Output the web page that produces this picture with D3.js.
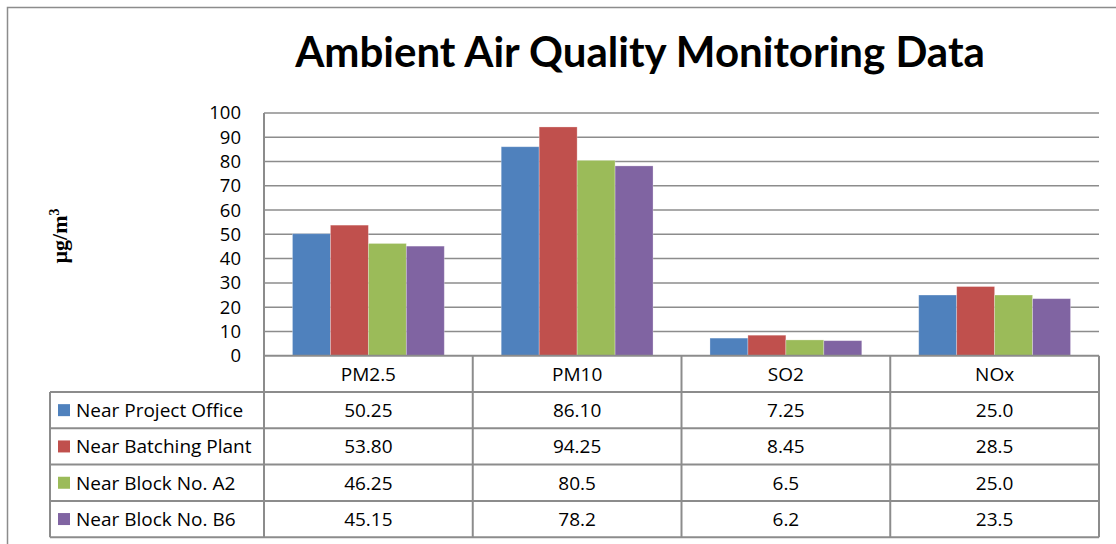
<!DOCTYPE html>
<meta charset="utf-8">
<script src="https://d3js.org/d3.v7.min.js"></script>
<style>
  body { margin: 0; background: #fff; }
  text { font-family: 'Open Sans', Lato, sans-serif; fill: #000; }
</style>
<body>
<div id="chart"></div>
<script>

// data
var categories = ["PM2.5", "PM10", "SO2", "NOx"];
var seriesNames = ["Near Project Office", "Near Batching Plant", "Near Block No. A2", "Near Block No. B6"];
var projectOffice = [50.25, 86.10, 7.25, 25.0];
var batchingPlant = [53.80, 94.25, 8.45, 28.5];
var blockA2 = [46.25, 80.5, 6.5, 25.0];
var blockB6 = [45.15, 78.2, 6.2, 23.5];
// the table shows the values as typed in the sheet
var projectOfficeText = ["50.25", "86.10", "7.25", "25.0"];
var batchingPlantText = ["53.80", "94.25", "8.45", "28.5"];
var blockA2Text = ["46.25", "80.5", "6.5", "25.0"];
var blockB6Text = ["45.15", "78.2", "6.2", "23.5"];
var yTicks = [0, 10, 20, 30, 40, 50, 60, 70, 80, 90, 100];
var colors = ["#4f81bd", "#c0504d", "#9bbb59", "#8064a2"];

var series = [projectOffice, batchingPlant, blockA2, blockB6];
var seriesText = [projectOfficeText, batchingPlantText, blockA2Text, blockB6Text];

var W = 1116, H = 544;
var plot = {left: 264, right: 1099, top: 113, bottom: 355.7};
var tableLeft = 50, rowH = 36.3;
var gridColor = "#8c8c8c";
var fs = "19px";

var svg = d3.select("#chart").append("svg")
  .attr("width", W)
  .attr("height", H);

// outer chart border (runs off the right and bottom edge)
svg.append("rect")
  .attr("x", 7.5).attr("y", 7.5)
  .attr("width", W).attr("height", H)
  .attr("fill", "none")
  .attr("stroke", "#8c8c8c")
  .attr("stroke-width", 1.5);

// title
var title = svg.append("text")
  .attr("x", 640).attr("y", 67)
  .attr("text-anchor", "middle")
  .style("font-family", "Lato, sans-serif")
  .style("font-size", "33px")
  .style("font-weight", 700)
  .text("Ambient Air Quality Monitoring Data");
var tl = title.node().getComputedTextLength();
title.style("font-size", (33 * 690 / tl) + "px");

// scales
var x0 = d3.scaleBand()
  .domain(categories)
  .range([plot.left, plot.right]);

var x1 = d3.scaleBand()
  .domain(d3.range(series.length))
  .range([0, x0.bandwidth()])
  .paddingInner(0)
  .paddingOuter(0.75);

var y = d3.scaleLinear()
  .domain([0, 100])
  .range([plot.bottom, plot.top]);

// gridlines
svg.append("g")
  .selectAll("line")
  .data(yTicks.filter(function(d) { return d > 0; }))
  .enter().append("line")
    .attr("x1", plot.left).attr("x2", plot.right)
    .attr("y1", function(d) { return y(d); })
    .attr("y2", function(d) { return y(d); })
    .attr("stroke", gridColor)
    .attr("stroke-width", 1.5);

// y axis tick labels
var yAxis = svg.append("g")
  .attr("transform", "translate(" + plot.left + ",0)")
  .call(d3.axisLeft(y).tickValues(yTicks).tickSize(0).tickPadding(23));
yAxis.select(".domain").remove();
yAxis.selectAll("text")
  .style("font-family", "'Open Sans', sans-serif")
  .style("font-size", "18.5px")
  .attr("fill", "#000");

// y axis title
svg.append("text")
  .attr("transform", "translate(67,236) rotate(-90)")
  .attr("text-anchor", "middle")
  .style("font-family", "'Liberation Serif', 'DejaVu Serif', serif")
  .style("font-size", "22px")
  .style("font-weight", 700)
  .html("µg/m<tspan dy='-8' style='font-size:14px'>3</tspan>");

// bars
var groups = svg.append("g")
  .selectAll("g")
  .data(categories)
  .enter().append("g")
    .attr("transform", function(d) { return "translate(" + x0(d) + ",0)"; });

groups.selectAll("rect")
  .data(function(d, ci) {
    return series.map(function(s, si) { return {si: si, v: s[ci]}; });
  })
  .enter().append("rect")
    .attr("x", function(d) { return x1(d.si); })
    .attr("y", function(d) { return y(d.v); })
    .attr("width", x1.bandwidth())
    .attr("height", function(d) { return y(0) - y(d.v); })
    .attr("fill", function(d) { return colors[d.si]; })
    .attr("stroke", "#ffffff")
    .attr("stroke-opacity", 0.35)
    .attr("stroke-width", 0.8);

// data table
var table = svg.append("g");
var tableTop = plot.bottom;

// horizontal lines
table.append("line")
  .attr("x1", plot.left).attr("x2", plot.right)
  .attr("y1", tableTop).attr("y2", tableTop)
  .attr("stroke", gridColor).attr("stroke-width", 2);
table.selectAll("line.h")
  .data(d3.range(1, series.length + 2))
  .enter().append("line")
    .attr("class", "h")
    .attr("x1", tableLeft).attr("x2", plot.right)
    .attr("y1", function(i) { return tableTop + i * rowH; })
    .attr("y2", function(i) { return tableTop + i * rowH; })
    .attr("stroke", gridColor).attr("stroke-width", 2);

// vertical lines
var tableBottom = tableTop + (series.length + 1) * rowH;
table.append("line")
  .attr("x1", tableLeft).attr("x2", tableLeft)
  .attr("y1", tableTop + rowH).attr("y2", tableBottom)
  .attr("stroke", gridColor).attr("stroke-width", 2);
table.append("line")
  .attr("x1", plot.left).attr("x2", plot.left)
  .attr("y1", plot.top).attr("y2", tableBottom)
  .attr("stroke", gridColor).attr("stroke-width", 2);
table.selectAll("line.v")
  .data(categories)
  .enter().append("line")
    .attr("class", "v")
    .attr("x1", function(d) { return x0(d) + x0.bandwidth(); })
    .attr("x2", function(d) { return x0(d) + x0.bandwidth(); })
    .attr("y1", tableTop).attr("y2", tableBottom)
    .attr("stroke", gridColor).attr("stroke-width", 2);

// header (category names)
table.selectAll("text.cat")
  .data(categories)
  .enter().append("text")
    .attr("class", "cat")
    .attr("x", function(d) { return x0(d) + x0.bandwidth() / 2; })
    .attr("y", tableTop + rowH / 2)
    .attr("dy", "0.36em")
    .attr("text-anchor", "middle")
    .style("font-size", fs)
    .text(function(d) { return d; });

// series rows: legend key, name, values
seriesNames.forEach(function(name, si) {
  var cy = tableTop + (si + 1.5) * rowH;
  table.append("rect")
    .attr("x", 58).attr("y", cy - 6)
    .attr("width", 12).attr("height", 12)
    .attr("fill", colors[si]);
  table.append("text")
    .attr("x", 76).attr("y", cy)
    .attr("dy", "0.36em")
    .style("font-size", fs)
    .text(name);
  table.selectAll("text.v" + si)
    .data(seriesText[si])
    .enter().append("text")
      .attr("class", "v" + si)
      .attr("x", function(d, ci) { return x0(categories[ci]) + x0.bandwidth() / 2; })
      .attr("y", cy)
      .attr("dy", "0.36em")
      .attr("text-anchor", "middle")
      .style("font-size", fs)
      .text(function(d) { return d; });
});

</script>
</body>
